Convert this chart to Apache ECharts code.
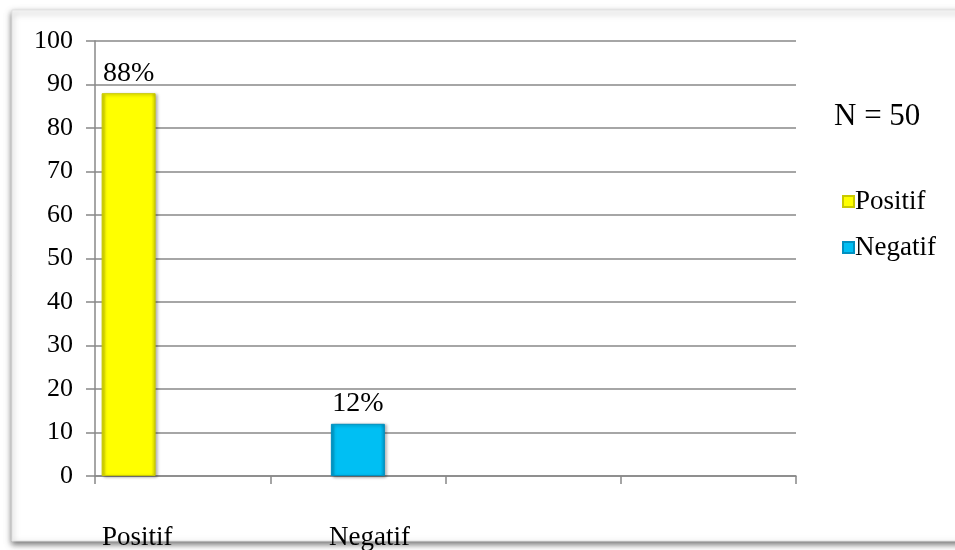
<!DOCTYPE html>
<html><head><meta charset="utf-8">
<script src="https://cdn.jsdelivr.net/npm/echarts@6/dist/echarts.min.js"></script>
<style>html,body{margin:0;padding:0;background:#fff}#c{width:955px;height:550px}</style>
</head><body><div id="c"></div>
<script>
const categories = ['Positif', 'Negatif', '', ''];
const positifValues = [88, null, null, null];
const negatifValues = [null, 12, null, null];
const emptyValues = [null, null, null, null];
const yTicks = [0, 10, 20, 30, 40, 50, 60, 70, 80, 90, 100];
const noteText = 'N = 50';

const serif = '"Liberation Serif", "Times New Roman", serif';
const chart = echarts.init(document.getElementById('c'), null, {renderer: 'canvas'});

function barStyle(main, edge) {
  return {
    color: new echarts.graphic.LinearGradient(0, 0, 1, 0, [
      {offset: 0, color: edge}, {offset: 0.08, color: main}, {offset: 0.92, color: main}, {offset: 1, color: edge}
    ]),
    borderColor: edge, borderWidth: 1,
    shadowColor: 'rgba(0,0,0,0.35)', shadowBlur: 3, shadowOffsetX: 2, shadowOffsetY: 1
  };
}

chart.setOption({
  backgroundColor: '#fff',
  animation: false,
  graphic: [
    {type: 'rect', z: -10, shape: {x: 12, y: 10, width: 960, height: 531},
     style: {fill: '#fff', stroke: '#e2e2e2', lineWidth: 1, shadowBlur: 6, shadowOffsetY: 3, shadowColor: 'rgba(0,0,0,0.55)'}},
    {type: 'text', z: 100, left: 102, top: 524, style: {text: categories[0], font: '27px ' + serif, fill: '#000'}},
    {type: 'text', z: 100, left: 329, top: 524, style: {text: categories[1], font: '27px ' + serif, fill: '#000'}}
  ],
  title: {text: noteText, left: 829, top: 96, textStyle: {fontFamily: serif, fontSize: 31, fontWeight: 'normal', color: '#000'}},
  legend: {
    data: ['Positif', 'Negatif'], orient: 'vertical', left: 837, top: 183,
    itemWidth: 11, itemHeight: 11, itemGap: 19, icon: 'rect',
    textStyle: {fontFamily: serif, fontSize: 27, color: '#000', padding: [0, 0, 0, -4]}
  },
  grid: {left: 95, right: 159, top: 41, bottom: 74, containLabel: false},
  xAxis: {
    type: 'category', data: categories,
    axisLine: {lineStyle: {color: '#888', width: 1.5}},
    axisTick: {show: true, length: 8, lineStyle: {color: '#888', width: 1.5}},
    axisLabel: {show: false},
    splitLine: {show: false}
  },
  yAxis: {
    type: 'value', min: 0, max: 100, interval: 10,
    axisLine: {show: true, lineStyle: {color: '#888', width: 1.5}},
    axisTick: {show: true, length: 9, lineStyle: {color: '#888', width: 1.5}},
    axisLabel: {fontFamily: serif, fontSize: 26, color: '#000', margin: 22,
      formatter: v => yTicks.includes(v) ? String(v) : ''},
    splitLine: {lineStyle: {color: '#888', width: 1.5}}
  },
  series: [
    {name: 'Positif', type: 'bar', data: positifValues, barWidth: 54, barGap: 0,
     itemStyle: barStyle('#FFFF00', '#C9C900'),
     label: {show: true, position: 'top', distance: 6, formatter: '{c}%', fontFamily: serif, fontSize: 28, color: '#000'}},
    {name: 'Negatif', type: 'bar', data: negatifValues, barWidth: 54, barGap: 0,
     itemStyle: barStyle('#00BFF3', '#0090C0'),
     label: {show: true, position: 'top', distance: 6, formatter: '{c}%', fontFamily: serif, fontSize: 28, color: '#000'}},
    {name: 'empty', type: 'bar', data: emptyValues, barWidth: 54, barGap: 0}
  ]
});
</script></body></html>
